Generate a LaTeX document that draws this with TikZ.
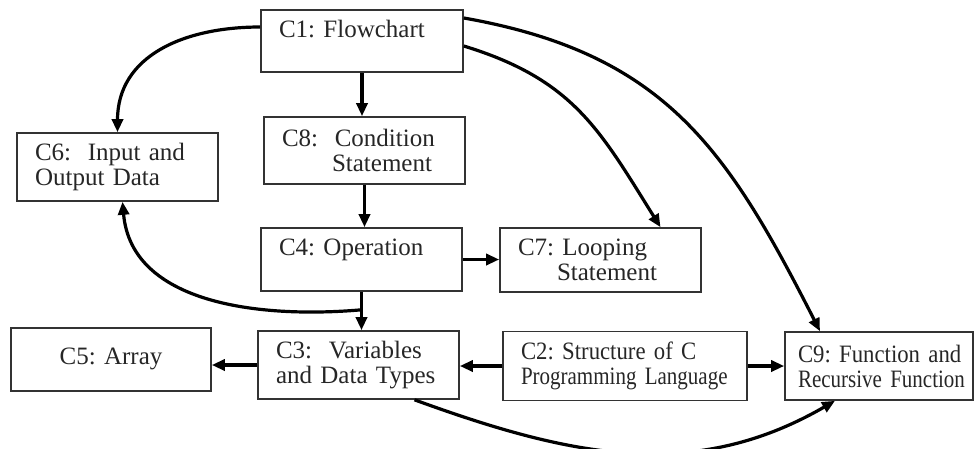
\documentclass[tikz,border=0pt]{standalone}
\usepackage{fontspec}
\setmainfont{Liberation Serif}
\newfontfamily\narrowfont[FakeStretch=0.91]{Liberation Serif}
\newfontfamily\tightfont[FakeStretch=0.84]{Liberation Serif}
\usetikzlibrary{arrows.meta,calc}
\frenchspacing

\begin{document}
\begin{tikzpicture}[x=1pt,y=1pt,
    box/.style={draw=black!80, line width=1.6pt, text=black!85, inner xsep=18pt, inner ysep=3pt,
                align=left, text width=165pt, font=\fontsize{25}{25}\selectfont},
    arr/.style={line width=3.2pt, -{Triangle[length=13pt,width=11pt]}}]
                    \useasboundingbox (0,0) rectangle (975,-448);

                    \node[box, text width=166pt, minimum height=62pt] (c1) at (362,-41) {C1: Flowchart\\\mbox{}};
                    \node[box, minimum height=67pt] (c8) at (364.5,-150.5) {C8:~~Condition\\\hspace*{50pt}Statement};
                    \node[box, minimum height=68pt] (c6) at (117.5,-167) {C6:~~Input and\\Output Data};
                    \node[box, minimum height=63pt] (c4) at (361.5,-259.5) {C4: Operation\\\mbox{}};
                    \node[box, minimum height=64pt] (c7) at (600.5,-260) {C7: Looping\\\hspace*{39pt}Statement};
                    \node[box, align=center, text width=164pt, minimum height=63pt] (c5) at (111,-359.5) {\raisebox{7pt}{C5: Array}};
                    \node[box, minimum height=68pt] (c3) at (358.5,-365) {C3:~~Variables\\and Data Types};
                    \node[box, text width=208pt, minimum height=69pt] (c2) at (625,-366) {\narrowfont C2: Structure of C\\\tightfont Programming Language};
                    \node[box, text width=174pt, inner xsep=7pt, minimum height=68pt] (c9) at (879,-366) {\narrowfont\hspace*{6pt}C9: Function and\\\tightfont\hspace*{6pt}Recursive Function};

                    \draw[arr] (c1.south) -- (c1.south |- c8.north);
                    \draw[arr] (c8.south) -- (c8.south |- c4.north);
                    \draw[arr] (c4.south) -- (c4.south |- c3.north);
                    \draw[arr] (c4.east) -- (c4.east -| c7.west);
                    \draw[arr] (c3.west) -- (c3.west -| c5.east);
                    \draw[arr] (c2.west) -- (c2.west -| c3.east);
                    \draw[arr] (c2.east) -- (c2.east -| c9.west);

                    % curved links
                    \coordinate (j) at ($(c4.south)+(0,-18)$);
                    \draw[arr] ([yshift=14pt]c1.west) to[out=180,in=90,looseness=1.1] (c6.north);
                    \draw[arr] (j) to[out=185,in=-85] ([xshift=5pt]c6.south);
                    \draw[arr] ([yshift=-5pt]c1.east) to[out=-17,in=122,looseness=1.1] ([xshift=60pt]c7.north);
                    \draw[arr] ([yshift=23pt]c1.east) to[out=-10,in=117,looseness=1.1] ([xshift=-59pt]c9.north);
                    \draw[arr] ([xshift=56pt]c3.south) to[out=-20,in=-150] ([xshift=-44pt]c9.south);
                \end{tikzpicture}
\end{document}
